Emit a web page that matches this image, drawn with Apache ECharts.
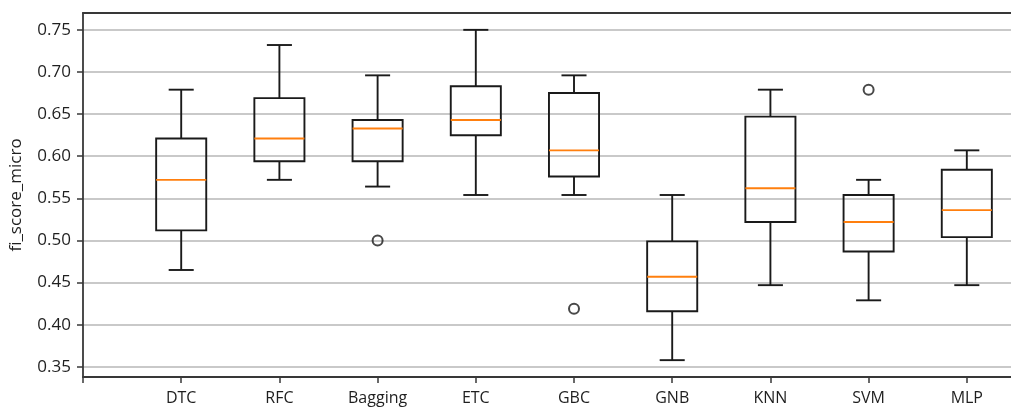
<!DOCTYPE html>
<html>
<head>
<meta charset="utf-8">
<script src="https://cdn.jsdelivr.net/npm/echarts@6/dist/echarts.min.js"></script>
<style>
  html, body { margin: 0; padding: 0; background: #ffffff; }
  #chart { width: 1011px; height: 417px; }
</style>
</head>
<body>
<div id="chart"></div>
<script>
// Classifier names, placed at x = 1..9 (slot 0 is left empty)
const categories = ['DTC', 'RFC', 'Bagging', 'ETC', 'GBC', 'GNB', 'KNN', 'SVM', 'MLP'];

// Five-number summaries of f1_score_micro per classifier
const whiskerLow  = [0.465, 0.572, 0.564, 0.554, 0.554, 0.358, 0.447, 0.429, 0.447];
const q1          = [0.512, 0.594, 0.594, 0.625, 0.576, 0.416, 0.522, 0.487, 0.504];
const median      = [0.572, 0.621, 0.633, 0.643, 0.607, 0.457, 0.562, 0.522, 0.536];
const q3          = [0.621, 0.669, 0.643, 0.683, 0.675, 0.499, 0.647, 0.554, 0.584];
const whiskerHigh = [0.679, 0.732, 0.696, 0.750, 0.696, 0.554, 0.679, 0.572, 0.607];

// Flier points
const outlierCategory = ['Bagging', 'GBC', 'SVM'];
const outlierValue    = [0.500, 0.419, 0.679];

// Y tick labels
const yTickLabels = ['0.35', '0.40', '0.45', '0.50', '0.55', '0.60', '0.65', '0.70', '0.75'];

const FONT = '"Open Sans", "Noto Sans", sans-serif';
const TEXT = '#1f1f1f';
const AXIS = '#383838';
const BOX_FRACTION = 0.51;
const LW = 1.9;

const boxData = categories.map((c, i) =>
  [i + 1, whiskerLow[i], q1[i], median[i], q3[i], whiskerHigh[i]]);
const flierData = outlierCategory.map((c, i) =>
  [categories.indexOf(c) + 1, outlierValue[i]]);

const chart = echarts.init(document.getElementById('chart'), null, { renderer: 'canvas' });

function renderBox(params, api) {
  const x = api.value(0);
  const lo = api.coord([x, api.value(1)]);
  const b1 = api.coord([x, api.value(2)]);
  const md = api.coord([x, api.value(3)]);
  const b3 = api.coord([x, api.value(4)]);
  const hi = api.coord([x, api.value(5)]);
  const bw = api.size([BOX_FRACTION, 0])[0];
  const half = bw / 2;
  const cap = bw / 4;
  const cx = lo[0];
  const st = { stroke: '#1a1a1a', lineWidth: LW, fill: null };
  return {
    type: 'group',
    children: [
      { type: 'line', shape: { x1: cx, y1: hi[1], x2: cx, y2: b3[1] }, style: st },
      { type: 'line', shape: { x1: cx, y1: b1[1], x2: cx, y2: lo[1] }, style: st },
      { type: 'line', shape: { x1: cx - cap, y1: hi[1], x2: cx + cap, y2: hi[1] }, style: st },
      { type: 'line', shape: { x1: cx - cap, y1: lo[1], x2: cx + cap, y2: lo[1] }, style: st },
      { type: 'rect', shape: { x: cx - half, y: b3[1], width: bw, height: b1[1] - b3[1] },
        style: { stroke: '#1a1a1a', lineWidth: LW, fill: 'rgba(0,0,0,0)' } },
      { type: 'line', shape: { x1: cx - half, y1: md[1], x2: cx + half, y2: md[1] },
        style: { stroke: '#ff7f0e', lineWidth: LW } }
    ]
  };
}

const option = {
  animation: false,
  backgroundColor: '#ffffff',
  grid: { left: 83, right: 0, top: 13, bottom: 40, containLabel: false, outerBoundsMode: 'none' },
  xAxis: [
    {
      type: 'value',
      min: 0,
      max: 9.45,
      interval: 1,
      axisLine: { show: true, lineStyle: { color: AXIS, width: 1.8 } },
      axisTick: { show: true, length: 6, lineStyle: { color: AXIS, width: 1.5 } },
      splitLine: { show: false },
      axisLabel: {
        show: true,
        margin: 13,
        fontFamily: FONT,
        fontSize: 16,
        color: TEXT,
        showMaxLabel: false,
        formatter: v => (Number.isInteger(v) && v >= 1 && v <= categories.length) ? categories[v - 1] : ''
      }
    },
    {
      type: 'value',
      position: 'top',
      min: 0,
      max: 9.45,
      axisLine: { show: true, lineStyle: { color: AXIS, width: 1.8 } },
      axisTick: { show: false },
      axisLabel: { show: false },
      splitLine: { show: false }
    }
  ],
  yAxis: {
    type: 'value',
    min: 0.338,
    max: 0.770,
    splitNumber: 8,
    name: 'fi_score_micro',
    nameLocation: 'middle',
    nameGap: 58,
    nameTextStyle: { fontFamily: FONT, fontSize: 17, color: TEXT },
    axisLine: { show: true, lineStyle: { color: AXIS, width: 1.8 } },
    axisTick: { show: true, length: 6, lineStyle: { color: AXIS, width: 1.5 } },
    splitLine: { show: true, showMinLine: false, showMaxLine: false, lineStyle: { color: '#c9c9c9', width: 1.8 } },
    axisLabel: {
      margin: 12,
      fontFamily: FONT,
      fontSize: 17,
      color: TEXT,
      showMinLabel: false,
      showMaxLabel: false,
      formatter: v => {
        const s = v.toFixed(2);
        return yTickLabels.indexOf(s) >= 0 ? s : '';
      }
    }
  },
  series: [
    {
      type: 'custom',
      name: 'box',
      xAxisIndex: 0,
      renderItem: renderBox,
      encode: { x: 0, y: [1, 2, 3, 4, 5] },
      data: boxData,
      z: 3
    },
    {
      type: 'scatter',
      name: 'fliers',
      xAxisIndex: 0,
      symbol: 'circle',
      symbolSize: 10,
      itemStyle: { color: 'rgba(0,0,0,0)', borderColor: '#1a1a1a', borderWidth: 2 },
      data: flierData,
      z: 4
    }
  ]
};

chart.setOption(option);
</script>
</body>
</html>
